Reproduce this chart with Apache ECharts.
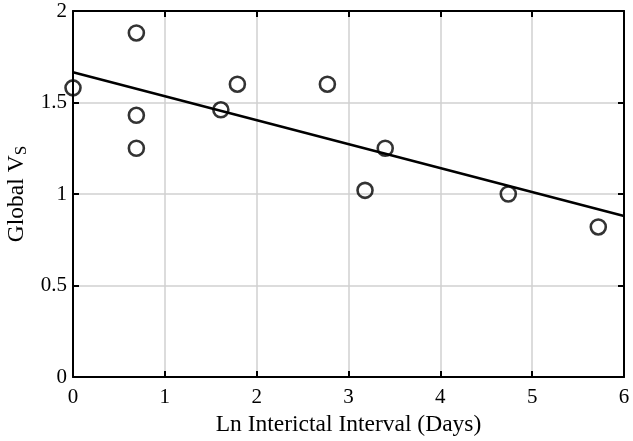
<!DOCTYPE html>
<html><head><meta charset="utf-8">
<script src="https://cdn.jsdelivr.net/npm/echarts@6/dist/echarts.min.js"></script>
<style>html,body{margin:0;padding:0;background:#fff}#c{width:633px;height:441px}</style>
</head><body><div id="c"></div>
<script>
const xValues = [0, 0.69, 0.69, 0.69, 1.61, 1.79, 2.77, 3.18, 3.40, 4.74, 5.72];
const yValues = [1.58, 1.88, 1.43, 1.25, 1.46, 1.60, 1.60, 1.02, 1.25, 1.00, 0.82];
const fitX = [0, 6];
const fitY = [1.665, 0.88];
const xTicks = [0, 1, 2, 3, 4, 5, 6];
const yTicks = [0, 0.5, 1, 1.5, 2];

const font = 'Liberation Serif';
const chart = echarts.init(document.getElementById('c'), null, {renderer: 'canvas'});
const axisCommon = {
  axisLine: {show: true, onZero: false, lineStyle: {color: '#000', width: 2}},
  axisTick: {show: true, inside: true, length: 6, lineStyle: {color: '#000', width: 2}},
};
chart.setOption({
  animation: false,
  grid: {left: 73, right: 9, top: 11, bottom: 64, containLabel: false, outerBoundsMode: 'none'},
  xAxis: [{
    type: 'value', min: 0, max: 6, interval: 1, position: 'bottom',
    ...axisCommon,
    axisLabel: {color: '#000', fontFamily: font, fontSize: 21, margin: 10,
      formatter: v => xTicks.includes(v) ? String(v) : ''},
    splitLine: {show: true, lineStyle: {color: '#d0d0d0', width: 1.5}},
    name: 'Ln Interictal Interval (Days)', nameLocation: 'middle', nameGap: 36,
    nameTextStyle: {color: '#000', fontFamily: font, fontSize: 23.5}
  }, {
    type: 'value', min: 0, max: 6, interval: 1, position: 'top',
    ...axisCommon, axisLabel: {show: false}, splitLine: {show: false}
  }],
  yAxis: [{
    type: 'value', min: 0, max: 2, interval: 0.5, position: 'left',
    ...axisCommon,
    axisLabel: {color: '#000', fontFamily: font, fontSize: 21, margin: 6,
      formatter: v => yTicks.includes(v) ? String(v) : ''},
    splitLine: {show: true, lineStyle: {color: '#d0d0d0', width: 1.5}},
    name: 'Global V{sub|S}', nameLocation: 'middle', nameGap: 38, nameRotate: 90,
    nameTextStyle: {color: '#000', fontFamily: font, fontSize: 23.5,
      rich: {sub: {fontFamily: font, fontSize: 17, color: '#000', verticalAlign: 'bottom', padding: [10, 0, 0, 0]}}}
  }, {
    type: 'value', min: 0, max: 2, interval: 0.5, position: 'right',
    ...axisCommon, axisLabel: {show: false}, splitLine: {show: false}
  }],
  series: [{
    type: 'line', data: fitX.map((x, i) => [x, fitY[i]]),
    showSymbol: false, symbol: 'none', lineStyle: {color: '#000', width: 2.5}, z: 3
  }, {
    type: 'scatter', data: xValues.map((x, i) => [x, yValues[i]]),
    symbol: 'circle', symbolSize: 15,
    itemStyle: {color: 'rgba(255,255,255,0)', borderColor: '#000', borderWidth: 2.6}, z: 4
  }]
});
</script></body></html>
